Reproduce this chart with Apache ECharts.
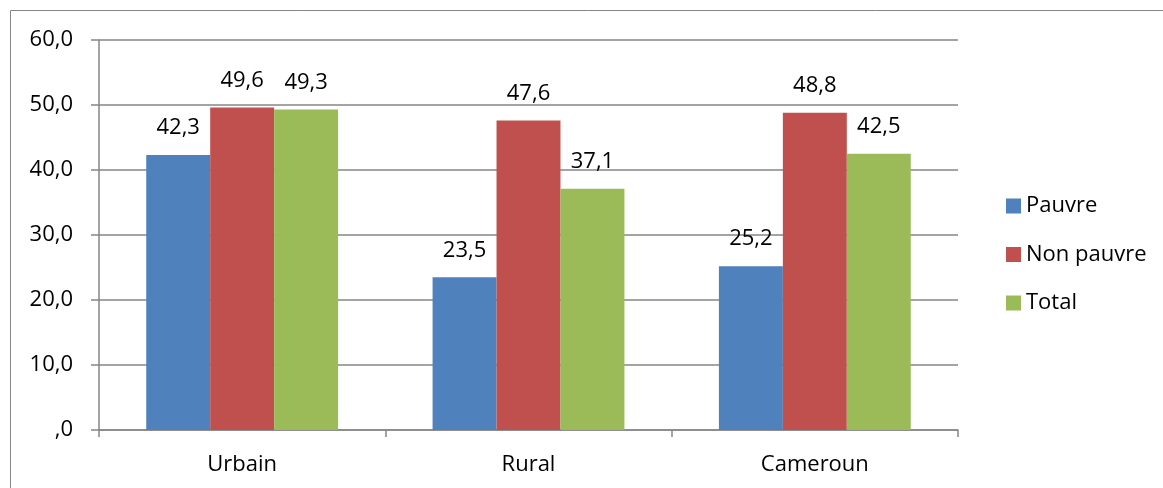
<!DOCTYPE html>
<html>
<head>
<meta charset="utf-8">
<script src="https://cdn.jsdelivr.net/npm/echarts@6/dist/echarts.min.js"></script>
<style>
  html, body { margin: 0; padding: 0; background: #fff; }
  #chart { width: 1163px; height: 488px; }
</style>
</head>
<body>
<div id="chart"></div>
<script>
var categories = ['Urbain', 'Rural', 'Cameroun'];
var pauvre = [42.3, 23.5, 25.2];
var nonPauvre = [49.6, 47.6, 48.8];
var total = [49.3, 37.1, 42.5];
var yTicks = [0, 10, 20, 30, 40, 50, 60];

var fontFamily = 'Open Sans, Lato, sans-serif';

function fmt(v) {
  // virgule décimale, zéro sans chiffre avant
  var s = v.toFixed(1).replace('.', ',');
  return v === 0 ? ',0' : s;
}

function barSeries(name, data, color) {
  return {
    name: name,
    type: 'bar',
    data: data,
    barGap: 0,
    barCategoryGap: '33%',
    itemStyle: { color: color },
    label: {
      show: true,
      position: 'top',
      distance: 16,
      color: '#000',
      fontSize: 22,
      fontFamily: fontFamily,
      formatter: function (p) { return fmt(p.value); }
    }
  };
}

var chart = echarts.init(document.getElementById('chart'));
chart.setOption({
  animation: false,
  graphic: [{
    type: 'rect',
    shape: { x: 10.5, y: 10.5, width: 1200, height: 500 },
    style: { fill: 'none', stroke: '#868686', lineWidth: 1 }
  }],
  grid: { left: 99, right: 205, top: 40, bottom: 58 },
  legend: {
    orient: 'vertical',
    left: 1001,
    top: 190,
    itemWidth: 15,
    itemHeight: 15,
    itemGap: 26.5,
    icon: 'rect',
    textStyle: { fontSize: 22, fontFamily: fontFamily, color: '#000' },
    data: ['Pauvre', 'Non pauvre', 'Total']
  },
  xAxis: {
    type: 'category',
    data: categories,
    axisLine: { lineStyle: { color: '#868686', width: 1.5 } },
    axisTick: { show: true, length: 7, alignWithLabel: false, lineStyle: { color: '#868686', width: 1.5 } },
    axisLabel: { color: '#000', fontSize: 22, fontFamily: fontFamily, margin: 24 }
  },
  yAxis: {
    type: 'value',
    min: yTicks[0],
    max: yTicks[yTicks.length - 1],
    interval: 10,
    axisLine: { show: true, lineStyle: { color: '#868686', width: 1.5 } },
    axisTick: { show: true, length: 8, lineStyle: { color: '#868686', width: 1.5 } },
    splitLine: { lineStyle: { color: '#868686', width: 1.5 } },
    axisLabel: {
      color: '#000',
      fontSize: 22,
      fontFamily: fontFamily,
      margin: 26,
      formatter: function (v) { return fmt(v); }
    }
  },
  series: [
    barSeries('Pauvre', pauvre, '#4f81bd'),
    barSeries('Non pauvre', nonPauvre, '#c0504d'),
    barSeries('Total', total, '#9bbb59')
  ]
});
</script>
</body>
</html>
